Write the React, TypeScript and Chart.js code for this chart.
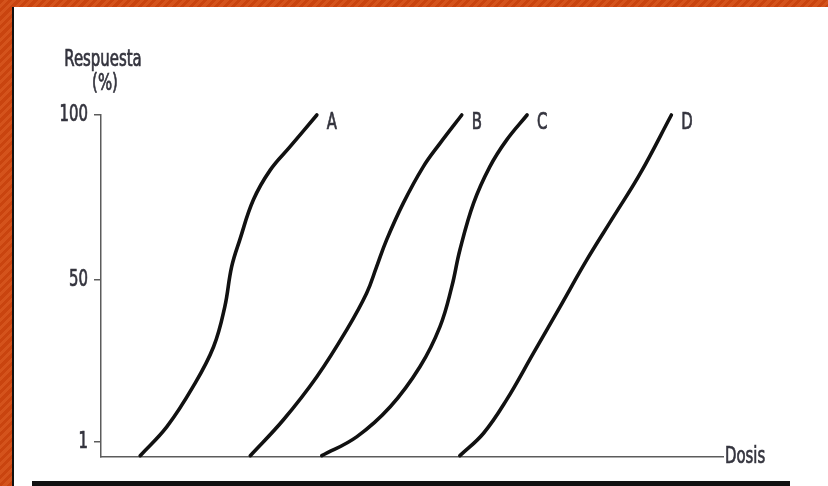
import React, { useEffect, useRef } from "react";
import { Chart, registerables } from "chart.js";

Chart.register(...registerables);

const curveNames = ["A", "B", "C", "D"];
const curveA = [
  { x: 6.3, y: -3.2 }, { x: 10.6, y: 5.6 }, { x: 14.8, y: 17.7 }, { x: 18.1, y: 29.8 },
  { x: 19.9, y: 41.9 }, { x: 21.0, y: 54.0 }, { x: 22.3, y: 62.1 }, { x: 24.5, y: 74.3 },
  { x: 27.2, y: 83.3 }, { x: 30.4, y: 90.4 }, { x: 34.7, y: 100 },
];
const curveB = [
  { x: 24.0, y: -3.2 }, { x: 29.3, y: 7.6 }, { x: 34.7, y: 20.7 }, { x: 39.5, y: 34.9 },
  { x: 42.7, y: 46.0 }, { x: 44.3, y: 54.0 }, { x: 45.9, y: 62.1 }, { x: 48.6, y: 73.3 },
  { x: 51.8, y: 84.3 }, { x: 54.5, y: 91.4 }, { x: 58.0, y: 100 },
];
const curveC = [
  { x: 35.5, y: -3.2 }, { x: 41.1, y: 2.5 }, { x: 46.5, y: 11.6 }, { x: 51.3, y: 23.8 },
  { x: 54.5, y: 35.9 }, { x: 56.4, y: 48.0 }, { x: 57.7, y: 59.1 }, { x: 59.9, y: 73.3 },
  { x: 62.5, y: 84.3 }, { x: 65.2, y: 92.4 }, { x: 68.5, y: 100 },
];
const curveD = [
  { x: 57.7, y: -3.2 }, { x: 61.5, y: 3.6 }, { x: 65.2, y: 13.7 }, { x: 69.5, y: 27.8 },
  { x: 73.8, y: 41.9 }, { x: 78.1, y: 56.1 }, { x: 82.4, y: 69.2 }, { x: 86.7, y: 82.3 },
  { x: 91.7, y: 100 },
];
const yTickValues = [1, 50, 100];
const yTitleLines = ["Respuesta", "(%)"];
const xTitle = "Dosis";

const FONT = "'DejaVu Sans Condensed', 'DejaVu Sans', sans-serif";
const FONT_SIZE = 23;
const SX = 0.72;
const TEXT = "#34343e";
const AXIS = "#5c5c5c";

function drawText(ctx: CanvasRenderingContext2D, text: string, x: number, y: number, align: CanvasTextAlign, baseline: CanvasTextBaseline) {
  ctx.save();
  ctx.translate(x, y);
  ctx.scale(SX, 1);
  ctx.textAlign = align;
  ctx.textBaseline = baseline;
  ctx.lineWidth = 0.7;
  ctx.strokeStyle = TEXT;
  ctx.fillText(text, 0, 0);
  ctx.strokeText(text, 0, 0);
  ctx.restore();
}

const textPlugin = {
  id: "textPlugin",
  afterDatasetsDraw(chart: any) {
    const { ctx, chartArea, scales } = chart;
    ctx.save();
    ctx.font = `${FONT_SIZE}px ${FONT}`;
    ctx.fillStyle = TEXT;
    chart.data.datasets.forEach((ds: any, i: number) => {
      const meta = chart.getDatasetMeta(i);
      const pt = meta.data[meta.data.length - 1];
      drawText(ctx, ds.label, pt.x + 10, pt.y - 3, "left", "top");
    });
    scales.y.ticks.forEach((t: any) => {
      drawText(ctx, String(t.value), chartArea.left - 13, scales.y.getPixelForValue(t.value), "right", "middle");
    });
    drawText(ctx, xTitle, chartArea.right + 2, chartArea.bottom, "left", "middle");
    drawText(ctx, yTitleLines[0], chartArea.left + 2, chartArea.top - 49, "center", "alphabetic");
    drawText(ctx, yTitleLines[1], chartArea.left + 4, chartArea.top - 25, "center", "alphabetic");
    ctx.restore();
  },
};

export default function App() {
  const ref = useRef<HTMLCanvasElement>(null);
  useEffect(() => {
    if (!ref.current) return;
    const series = [curveA, curveB, curveC, curveD];
    const chart = new Chart(ref.current, {
      type: "scatter",
      data: {
        datasets: series.map((d, i) => ({
          label: curveNames[i],
          data: d,
          showLine: true,
          borderColor: "#111111",
          borderWidth: 3.6,
          borderCapStyle: "round",
          pointRadius: 0,
          tension: 0.4,
          clip: false,
        })),
      } as any,
      options: {
        animation: false,
        responsive: false,
        events: [],
        layout: { padding: { top: 115, right: 105, bottom: 0, left: 0 } },
        plugins: { legend: { display: false }, tooltip: { enabled: false }, title: { display: false } },
        scales: {
          x: {
            type: "linear",
            min: 0,
            max: 100,
            ticks: { display: false },
            grid: { display: false },
            border: { display: true, color: AXIS, width: 1.5 },
            afterFit: (s: any) => { s.height = 29; },
          },
          y: {
            type: "linear",
            min: -3.6,
            max: 100,
            afterBuildTicks: (s: any) => { s.ticks = yTickValues.map((v) => ({ value: v })); },
            ticks: { display: false },
            grid: { drawOnChartArea: false, drawTicks: true, tickLength: 7, color: AXIS, lineWidth: 1.5 },
            border: { display: true, color: AXIS, width: 1.5 },
            afterFit: (s: any) => { s.width = 101; },
          },
        },
      },
      plugins: [textPlugin],
    });
    return () => chart.destroy();
  }, []);

  const stripes = "repeating-linear-gradient(135deg, #c9440f 0px, #c9440f 3px, #d4531c 3px, #d4531c 6px)";
  return (
    <div style={{ position: "fixed", left: 0, top: 0, width: 828, height: 486, background: "#ffffff", overflow: "hidden" }}>
      <div style={{ position: "absolute", left: 0, top: 0, width: 828, height: 7, background: stripes }} />
      <div style={{ position: "absolute", left: 0, top: 0, width: 12, height: 486, background: stripes }} />
      <div style={{ position: "absolute", left: 12, top: 7, width: 2, height: 479, background: "#111" }} />
      <div style={{ position: "absolute", left: 32, top: 481, width: 758, height: 5, background: "#111" }} />
      <canvas ref={ref} width={828} height={486} style={{ position: "absolute", left: 0, top: 0 }} />
    </div>
  );
}
